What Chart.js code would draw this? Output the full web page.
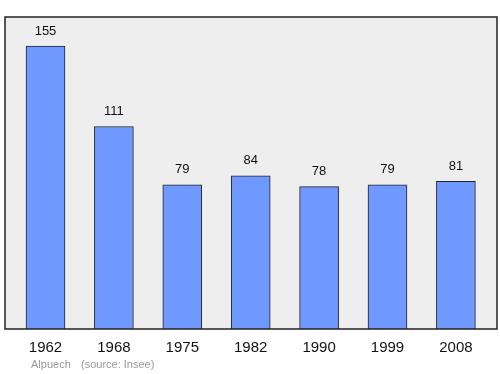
<!DOCTYPE html>
<html><head><meta charset="utf-8">
<script src="https://cdn.jsdelivr.net/npm/chart.js@4/dist/chart.umd.min.js"></script>
<style>html,body{margin:0;padding:0;background:#fff}#wrap{width:500px;height:374px;position:relative}</style>
</head><body><div id="wrap"><canvas id="c" width="500" height="374"></canvas></div>
<script>
const years = ['1962','1968','1975','1982','1990','1999','2008'];
const population = [155,111,79,84,78,79,81];
const footerText = 'Alpuech    (source: Insee)';

const boxPlugin = {
  id:'box',
  beforeDraw(chart){
    const {ctx, chartArea:a} = chart;
    ctx.save();
    ctx.fillStyle='#eeeeee';
    ctx.fillRect(5, a.top, 492, a.bottom-a.top);
    ctx.restore();
  },
  afterDatasetsDraw(chart){
    const {ctx, chartArea:a} = chart;
    ctx.save();
    ctx.strokeStyle='#222';
    ctx.lineWidth=1.5;
    ctx.strokeRect(5, a.top, 492, a.bottom-a.top);
    const meta = chart.getDatasetMeta(0);
    ctx.fillStyle='#111';
    ctx.font='13px "Liberation Sans", Arial, sans-serif';
    ctx.textAlign='center';
    ctx.textBaseline='middle';
    meta.data.forEach((bar,i)=>{
      ctx.fillText(String(population[i]), bar.x, bar.y-15);
    });
    ctx.fillStyle='#999';
    ctx.font='11px "Liberation Sans", Arial, sans-serif';
    ctx.textAlign='left';
    ctx.fillText('Alpuech', 31, 365);
    ctx.fillText('(source: Insee)', 81, 365);
    ctx.restore();
  }
};

new Chart(document.getElementById('c'), {
  type:'bar',
  data:{labels:years, datasets:[{data:population, backgroundColor:'#7099ff', borderColor:'#222', borderWidth:1, barThickness:39}]},
  options:{
    responsive:false, animation:false,
    layout:{padding:{left:11.3, right:9.9, top:17, bottom:7}},
    plugins:{legend:{display:false}, tooltip:{enabled:false}},
    scales:{
      x:{offset:true, grid:{display:false, drawTicks:false}, border:{display:false},
         ticks:{color:'#111', font:{size:15, family:'"Liberation Sans", Arial, sans-serif'}, padding:10, maxRotation:0}},
      y:{display:false, min:0, max:171}
    }
  },
  plugins:[boxPlugin]
});
</script></body></html>
